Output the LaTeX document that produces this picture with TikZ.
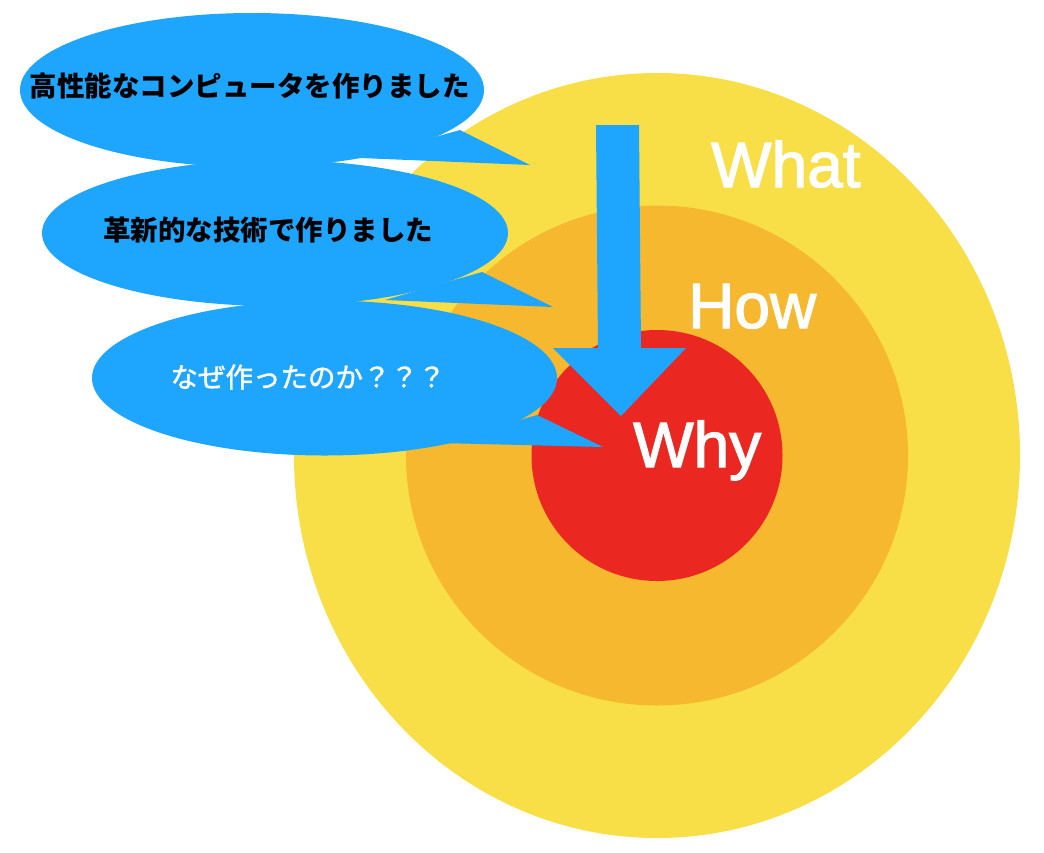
\documentclass[tikz,border=0pt]{standalone}
\usepackage{fontspec}
\setmainfont{Liberation Sans}
\newfontfamily\labelfont[FakeBold=2]{Liberation Sans}
\newfontfamily\jpfont{Noto Sans CJK JP}
\newfontfamily\jpmedfont[FakeBold=1.5]{Noto Sans CJK JP}
\usetikzlibrary{shapes.geometric}
\definecolor{cyellow}{RGB}{248,223,71}
\definecolor{corange}{RGB}{246,184,46}
\definecolor{cred}{RGB}{234,40,33}
\definecolor{cblue}{RGB}{30,165,254}
\begin{document}
\begin{tikzpicture}[x=1pt,y=-1pt,
  ring/.style={ellipse,inner sep=0pt,draw=none},
  bubble/.style={ellipse,fill=cblue,inner sep=0pt,draw=none},
  label/.style={text=white,inner sep=0pt,anchor=base west,font=\labelfont\fontsize{64}{70}\selectfont},
  jptext/.style={inner sep=0pt,anchor=center}]
\useasboundingbox (0,0) rectangle (1044,852);
% rings
\node[ring,fill=cyellow,minimum width=726pt,minimum height=765pt] (what) at (657,455.5) {};
\node[ring,fill=corange,minimum width=502pt,minimum height=500pt] (how) at (657,455.5) {};
\node[ring,fill=cred,minimum width=251pt,minimum height=251pt] (why) at (657,455.5) {};
\node[label] (whatlbl) at (711,187) {What};
\node[label] (howlbl) at (688,328) {How};
\node[label] (whylbl) at (633,467) {Why};
% arrow
\coordinate (a1) at (596,125);
\coordinate (a2) at (639,125);
\coordinate (a3) at (641,348);
\coordinate (a4) at (686,348);
\coordinate (tip) at (621,416);
\coordinate (a6) at (553,348);
\coordinate (a7) at (598,348);
\fill[cblue] (a1) -- (a2) -- (a3) -- (a4) -- (tip) -- (a6) -- (a7) -- cycle;
% bubble 1
\node[bubble,minimum width=464pt,minimum height=154pt] (b1) at (252,90) {};
\coordinate (t1a) at (460,130);
\coordinate (t1t) at (530,165);
\coordinate (t1b) at (360,158);
\fill[cblue] (t1a) -- (t1t) -- (t1b) -- cycle;
% bubble 2
\node[bubble,minimum width=466pt,minimum height=146pt] (b2) at (275,233) {};
\coordinate (t2a) at (482,272);
\coordinate (t2t) at (553,307);
\coordinate (t2b) at (385,300);
\fill[cblue] (t2a) -- (t2t) -- (t2b) -- cycle;
% bubble 3
\node[bubble,minimum width=465pt,minimum height=155pt] (b3) at (324.5,378) {};
\coordinate (t3a) at (537,415);
\coordinate (t3t) at (603,447);
\coordinate (t3b) at (440,443);
\fill[cblue] (t3a) -- (t3t) -- (t3b) -- cycle;
% texts
\node[jptext,font=\jpfont\bfseries\fontsize{27.5}{32}\selectfont] (txt1) at (249.5,86) {高性能なコンピュータを作りました};
\node[jptext,font=\jpfont\bfseries\fontsize{27.5}{32}\selectfont] (txt2) at (268,230) {革新的な技術で作りました};
\node[jptext,text=white,font=\jpmedfont\fontsize{27.5}{32}\selectfont] (txt3) at (308,377) {なぜ作ったのか？？？};
\end{tikzpicture}
\end{document}
